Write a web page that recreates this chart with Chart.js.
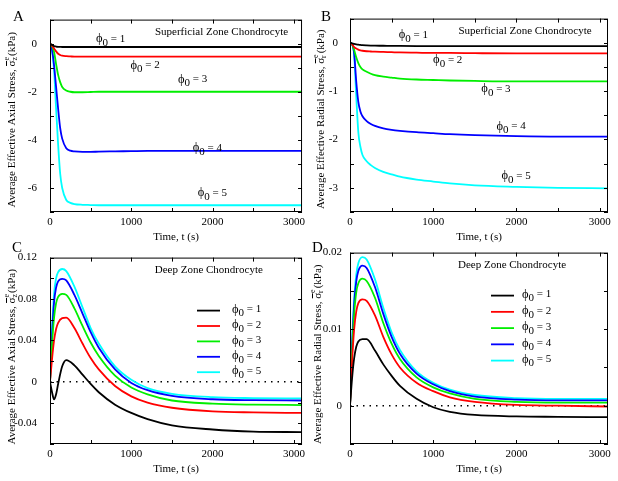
<!DOCTYPE html>
<html>
<head>
<meta charset="utf-8">
<script src="https://cdn.jsdelivr.net/npm/chart.js@4.4.0/dist/chart.umd.min.js"></script>
<style>
  body { margin: 0; background: #fff; }
  #wrap { position: relative; width: 618px; height: 481px; overflow: hidden; }
  canvas { position: absolute; }
</style>
</head>
<body>
<div id="wrap">
  <canvas id="cA" width="309" height="244" style="left:0;top:0"></canvas>
  <canvas id="cB" width="309" height="244" style="left:309px;top:0"></canvas>
  <canvas id="cC" width="309" height="243" style="left:0;top:238px"></canvas>
  <canvas id="cD" width="309" height="243" style="left:309px;top:238px"></canvas>
</div>
<script>
// time samples (s)
const timeFast = [0, 25, 50, 75, 100, 125, 150, 200, 250, 300, 400, 500, 600, 800, 1000, 1200, 1500, 2000, 2500, 3100];
const timeSlow = [0, 25, 50, 75, 100, 150, 200, 300, 400, 500, 600, 800, 1000, 1200, 1500, 2000, 2500, 3100];
const phiNames = ['1', '2', '3', '4', '5'];

// tick positions (labels only on every second one)
const timeTicks = [0, 500, 1000, 1500, 2000, 2500, 3000];
const ticksA = [-7, -6, -5, -4, -3, -2, -1, 0, 1];
const ticksB = [-3.5, -3, -2.5, -2, -1.5, -1, -0.5, 0, 0.5];
const ticksC = [-0.06, -0.04, -0.02, 0, 0.02, 0.04, 0.06, 0.08, 0.1, 0.12];
const ticksD = [-0.005, 0, 0.005, 0.01, 0.015, 0.02];

// A: superficial zone, axial stress (kPa)
const axialSup1 = [0, -0.05, -0.1, -0.12, -0.13, -0.135, -0.14, -0.14, -0.14, -0.14, -0.14, -0.14, -0.14, -0.14, -0.14, -0.14, -0.14, -0.14, -0.14, -0.14];
const axialSup2 = [0, -0.08, -0.2, -0.32, -0.42, -0.47, -0.5, -0.52, -0.53, -0.54, -0.54, -0.54, -0.54, -0.54, -0.54, -0.54, -0.54, -0.54, -0.54, -0.54];
const axialSup3 = [0, -0.1, -0.35, -0.85, -1.3, -1.6, -1.8, -1.95, -2.0, -2.02, -2.02, -2.01, -2.0, -2.0, -2.0, -2.0, -2.0, -2.0, -2.0, -2.0];
const axialSup4 = [0, -0.25, -0.9, -1.8, -2.7, -3.5, -3.95, -4.35, -4.45, -4.48, -4.5, -4.5, -4.49, -4.48, -4.47, -4.46, -4.46, -4.46, -4.46, -4.46];
const axialSup5 = [0, -0.3, -1.1, -2.7, -4.2, -5.4, -6.0, -6.5, -6.62, -6.67, -6.7, -6.71, -6.72, -6.72, -6.72, -6.72, -6.72, -6.72, -6.72, -6.72];

// B: superficial zone, radial stress (kPa)
const radialSup1 = [0, -0.01, -0.025, -0.035, -0.04, -0.045, -0.05, -0.055, -0.058, -0.06, -0.062, -0.065, -0.066, -0.068, -0.07, -0.07, -0.07, -0.07, -0.07, -0.07];
const radialSup2 = [0, -0.03, -0.09, -0.12, -0.14, -0.155, -0.165, -0.175, -0.18, -0.185, -0.19, -0.195, -0.2, -0.205, -0.21, -0.21, -0.215, -0.22, -0.22, -0.22];
const radialSup3 = [0, -0.03, -0.15, -0.3, -0.42, -0.5, -0.55, -0.6, -0.64, -0.67, -0.7, -0.72, -0.74, -0.76, -0.77, -0.78, -0.79, -0.8, -0.8, -0.8];
const radialSup4 = [0, -0.03, -0.22, -0.8, -1.22, -1.42, -1.52, -1.62, -1.68, -1.72, -1.77, -1.8, -1.82, -1.85, -1.87, -1.89, -1.91, -1.93, -1.94, -1.94];
const radialSup5 = [0, -0.03, -0.25, -1.1, -1.85, -2.15, -2.32, -2.45, -2.53, -2.59, -2.67, -2.72, -2.77, -2.83, -2.87, -2.91, -2.95, -2.98, -3.0, -3.01];

// C: deep zone, axial stress (kPa)
const axialDeep1 = [0, -0.01, -0.017, -0.012, -0.002, 0.015, 0.021, 0.016, 0.007, -0.002, -0.01, -0.022, -0.03, -0.036, -0.042, -0.046, -0.048, -0.0485];
const axialDeep2 = [0, 0.022, 0.04, 0.051, 0.057, 0.0615, 0.062, 0.052, 0.037, 0.023, 0.012, -0.004, -0.014, -0.02, -0.025, -0.0285, -0.0295, -0.03];
const axialDeep3 = [0, 0.036, 0.062, 0.076, 0.082, 0.085, 0.084, 0.071, 0.054, 0.038, 0.025, 0.006, -0.0055, -0.012, -0.018, -0.021, -0.022, -0.0224];
const axialDeep4 = [0, 0.045, 0.077, 0.091, 0.097, 0.0995, 0.098, 0.084, 0.066, 0.048, 0.033, 0.012, -0.001, -0.008, -0.0135, -0.0168, -0.0177, -0.018];
const axialDeep5 = [0, 0.05, 0.085, 0.1, 0.106, 0.109, 0.107, 0.092, 0.072, 0.052, 0.037, 0.015, 0.002, -0.006, -0.0115, -0.0148, -0.0157, -0.016];

// D: deep zone, radial stress (kPa)
const radialDeep1 = [0, 0.0036, 0.0062, 0.0077, 0.0084, 0.0087, 0.0087, 0.0072, 0.0054, 0.0039, 0.0026, 0.0009, -0.0002, -0.0008, -0.0012, -0.0014, -0.00145, -0.0015];
const radialDeep2 = [0, 0.0058, 0.01, 0.0123, 0.0134, 0.0139, 0.0137, 0.0118, 0.009, 0.0067, 0.005, 0.003, 0.0019, 0.0011, 0.0005, 0.0001, 0, -0.0001];
const radialDeep3 = [0, 0.007, 0.012, 0.0148, 0.016, 0.0166, 0.0163, 0.0141, 0.0108, 0.0081, 0.0061, 0.0037, 0.0024, 0.0016, 0.0009, 0.0005, 0.0004, 0.0004];
const radialDeep4 = [0, 0.0077, 0.0132, 0.0162, 0.0176, 0.0183, 0.018, 0.0155, 0.012, 0.009, 0.0068, 0.0042, 0.0028, 0.0019, 0.0012, 0.0008, 0.0007, 0.0007];
const radialDeep5 = [0, 0.0081, 0.014, 0.0171, 0.0186, 0.0194, 0.0191, 0.0165, 0.0128, 0.0096, 0.0073, 0.0045, 0.003, 0.0021, 0.0014, 0.001, 0.0009, 0.0009];

const lineColors = ['#000000', '#ff0000', '#00ee00', '#0000ff', '#00ffff'];
const FONT = '"Liberation Serif", "DejaVu Serif", serif';

Chart.defaults.font.family = FONT;
Chart.defaults.font.size = 11;
Chart.defaults.color = '#000';

function setFont(ctx, size) { ctx.font = size + 'px ' + FONT; }

// draws a row of text pieces (subscripts, stacked sub/sup, overbar)
function drawParts(ctx, parts, x, y, centered) {
  let w = 0;
  for (const p of parts) {
    setFont(ctx, p.size || 11);
    if (p.stack) p.w = Math.max(ctx.measureText(p.stack[0]).width, ctx.measureText(p.stack[1]).width) + 1;
    else p.w = ctx.measureText(p.t).width;
    w += p.w;
  }
  let cx = centered ? x - w / 2 : x;
  ctx.textAlign = 'left';
  ctx.textBaseline = 'middle';
  ctx.fillStyle = '#000';
  for (const p of parts) {
    setFont(ctx, p.size || 11);
    if (p.stack) {
      ctx.fillText(p.stack[0], cx, y - 5);
      ctx.fillText(p.stack[1], cx, y + 3);
    } else {
      ctx.fillText(p.t, cx, y + (p.dy || 0));
      if (p.bar) ctx.fillRect(cx + 0.5, y - 6, p.w - 1, 1);
    }
    cx += p.w;
  }
}

function phiParts(n) {
  return [{ t: '\u03D5', size: 12.5 }, { t: '0', size: 11, dy: 4 }, { t: ' = ' + n, size: 11 }];
}

// box with inward ticks on all four sides
const framePlugin = {
  id: 'frame',
  afterDatasetsDraw(chart) {
    const { ctx, chartArea: a, scales } = chart;
    ctx.save();
    ctx.strokeStyle = '#000';
    ctx.lineWidth = 1;
    ctx.strokeRect(a.left + 0.5, a.top + 0.5, a.right - a.left - 1, a.bottom - a.top - 1);
    ctx.beginPath();
    scales.x.ticks.forEach(t => {
      const px = Math.round(scales.x.getPixelForValue(t.value)) + 0.5;
      ctx.moveTo(px, a.bottom); ctx.lineTo(px, a.bottom - 4);
      ctx.moveTo(px, a.top); ctx.lineTo(px, a.top + 4);
    });
    scales.y.ticks.forEach(t => {
      const py = Math.round(scales.y.getPixelForValue(t.value)) + 0.5;
      ctx.moveTo(a.left, py); ctx.lineTo(a.left + 4, py);
      ctx.moveTo(a.right, py); ctx.lineTo(a.right - 4, py);
    });
    ctx.stroke();
    ctx.restore();
  }
};

// panel letters, axis titles, in-plot labels and legend
const notesPlugin = {
  id: 'notes',
  afterDraw(chart, args, o) {
    const { ctx, chartArea: a, scales } = chart;
    ctx.save();
    // panel letter
    setFont(ctx, 15);
    ctx.fillStyle = '#000';
    ctx.textAlign = 'left';
    ctx.textBaseline = 'alphabetic';
    ctx.fillText(o.letter[0], o.letter[1], o.letter[2]);
    // x title
    drawParts(ctx, [{ t: 'Time, t (s)', size: 11 }], (a.left + a.right) / 2, a.bottom + 25, true);
    // rotated y title
    ctx.save();
    ctx.translate(o.yTitleX, (a.top + a.bottom) / 2 + o.yTitleShift);
    ctx.rotate(-Math.PI / 2);
    drawParts(ctx, [
      { t: o.yTitle, size: 11 },
      { t: '\u03C3', size: 11, bar: true },
      { stack: ['e', o.yComp], size: 8 },
      { t: '(kPa)', size: 11 }
    ], 0, 0, true);
    ctx.restore();
    // zone title
    drawParts(ctx, [{ t: o.title[0], size: 11 }], scales.x.getPixelForValue(o.title[1]), scales.y.getPixelForValue(o.title[2]), true);
    // phi labels next to the curves
    (o.labels || []).forEach((l, i) => {
      drawParts(ctx, phiParts(phiNames[i]), scales.x.getPixelForValue(l[0]), scales.y.getPixelForValue(l[1]), false);
    });
    // legend without a box
    if (o.legend) {
      const g = o.legend;
      chart.data.datasets.slice(0, 5).forEach((ds, i) => {
        const y = a.top + g.top + i * g.gap;
        ctx.strokeStyle = ds.borderColor;
        ctx.lineWidth = 1.8;
        ctx.beginPath();
        ctx.moveTo(a.left + g.left, y);
        ctx.lineTo(a.left + g.left + 23, y);
        ctx.stroke();
        drawParts(ctx, phiParts(phiNames[i]), a.left + g.left + g.text, y - 1, false);
      });
    }
    ctx.restore();
  }
};

function makeSets(times, series, withZero) {
  const sets = series.map((vals, i) => ({
    data: vals.map((v, k) => ({ x: times[k], y: v })),
    borderColor: lineColors[i],
    borderWidth: 1.8,
    pointRadius: 0,
    fill: false,
    cubicInterpolationMode: 'monotone'
  }));
  if (withZero) {
    sets.push({
      data: [{ x: 0, y: 0 }, { x: 3100, y: 0 }],
      borderColor: '#000',
      borderWidth: 1.5,
      borderDash: [1.5, 5],
      pointRadius: 0,
      fill: false
    });
  }
  return sets;
}

function labelEvery(step) {
  return v => {
    const r = v / step;
    if (Math.abs(r - Math.round(r)) > 1e-6) return '';
    return String(+v.toFixed(4));
  };
}

function makeChart(id, cfg) {
  new Chart(document.getElementById(id), {
    type: 'line',
    data: { datasets: makeSets(cfg.times, cfg.series, cfg.zero) },
    options: {
      responsive: false,
      animation: false,
      layout: { padding: { left: 0, top: cfg.pad[0], right: cfg.pad[1], bottom: 0 } },
      plugins: {
        legend: { display: false },
        tooltip: { enabled: false },
        notes: cfg.notes
      },
      scales: {
        x: {
          type: 'linear',
          min: 0, max: 3100,
          grid: { display: false, drawTicks: false },
          border: { display: false },
          ticks: { autoSkip: false, padding: 4, maxRotation: 0, callback: labelEvery(1000) },
          afterBuildTicks: s => { s.ticks = timeTicks.map(v => ({ value: v })); },
          afterFit: s => { s.height = cfg.xh; }
        },
        y: {
          min: cfg.y[0], max: cfg.y[1],
          grid: { display: false, drawTicks: false },
          border: { display: false },
          ticks: { autoSkip: false, padding: cfg.ypad, callback: labelEvery(cfg.y[2]) },
          afterBuildTicks: s => { s.ticks = cfg.yTicks.map(v => ({ value: v })); },
          afterFit: s => { s.width = cfg.yw; }
        }
      }
    },
    plugins: [framePlugin, notesPlugin]
  });
}

makeChart('cA', {
  times: timeFast, series: [axialSup1, axialSup2, axialSup3, axialSup4, axialSup5], zero: false,
  pad: [11, 3], xh: 32, yw: 50, ypad: 13, y: [-7, 1, 2], yTicks: ticksA,
  notes: {
    letter: ['A', 13, 21], yTitle: 'Average Effective Axial Stress, ', yComp: 'z', yTitleX: 12, yTitleShift: 4,
    title: ['Superficial Zone Chondrocyte', 2110, 0.5],
    labels: [[565, 0.2], [989, -0.9], [1574, -1.48], [1755, -4.33], [1816, -6.2]]
  }
});

makeChart('cB', {
  times: timeFast, series: [radialSup1, radialSup2, radialSup3, radialSup4, radialSup5], zero: false,
  pad: [11, 10], xh: 32, yw: 41, ypad: 12, y: [-3.5, 0.5, 1], yTicks: ticksB,
  notes: {
    letter: ['B', 12, 21], yTitle: 'Average Effective Radial Stress, ', yComp: 'r', yTitleX: 12, yTitleShift: 4,
    title: ['Superficial Zone Chondrocyte', 2103, 0.25],
    labels: [[585, 0.165], [998, -0.36], [1578, -0.95], [1759, -1.73], [1819, -2.75]]
  }
});

makeChart('cC', {
  times: timeSlow, series: [axialDeep1, axialDeep2, axialDeep3, axialDeep4, axialDeep5], zero: true,
  pad: [4, 3], xh: 37, yw: 50, ypad: 13, y: [-0.06, 0.12, 0.04], yTicks: ticksC,
  notes: {
    letter: ['C', 12, 14], yTitle: 'Average Effective Axial Stress, ', yComp: 'z', yTitleX: 12, yTitleShift: 6,
    title: ['Deep Zone Chondrocyte', 1953, 0.108],
    legend: { left: 147, top: 53, gap: 15.4, text: 35 }
  }
});

makeChart('cD', {
  times: timeSlow, series: [radialDeep1, radialDeep2, radialDeep3, radialDeep4, radialDeep5], zero: true,
  pad: [4, 10], xh: 37, yw: 41, ypad: 8, y: [-0.005, 0.02, 0.01], yTicks: ticksD,
  notes: {
    letter: ['D', 3, 14], yTitle: 'Average Effective Radial Stress, ', yComp: 'r', yTitleX: 9, yTitleShift: 6,
    title: ['Deep Zone Chondrocyte', 1947, 0.0184],
    legend: { left: 141, top: 43, gap: 16.25, text: 31 }
  }
});
</script>
</body>
</html>
